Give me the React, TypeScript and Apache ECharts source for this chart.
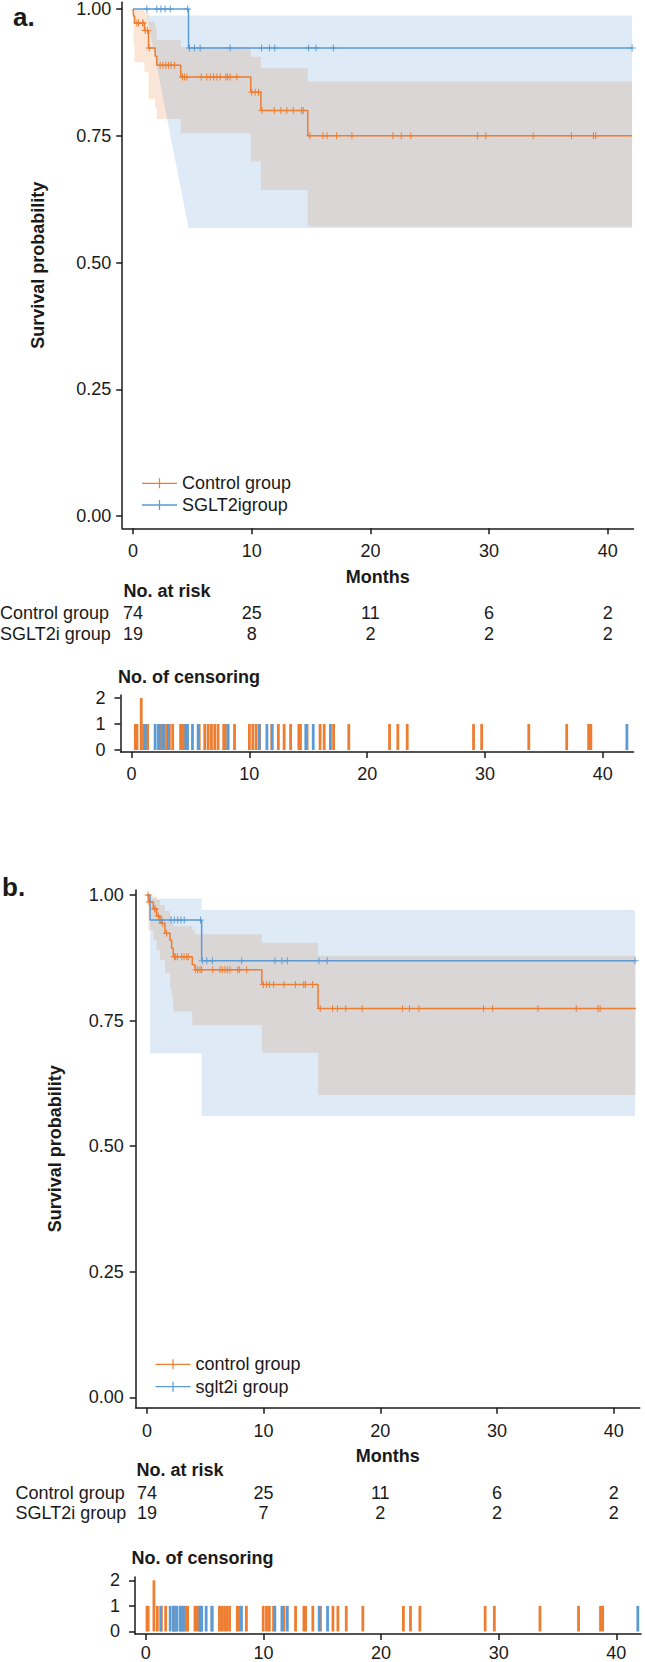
import React, { useEffect, useRef } from "react";
import * as echarts from "echarts";

// ================= DATA =================
const monthTicks = [0, 10, 20, 30, 40];
const survTicks = [0, 0.25, 0.5, 0.75, 1];
const censorTicks = [0, 1, 2];
const riskTimes = [0, 10, 20, 30, 40];

// ---- Panel a : Control group ----
const ctrlATimes = [0, 0.04, 0.12, 0.96, 1.3, 1.86, 2.0, 4.02, 9.92, 10.77, 14.72];
const ctrlASurv = [1.0, 0.986, 0.9725, 0.9575, 0.923, 0.907, 0.889, 0.866, 0.836, 0.8, 0.75];
const ctrlAUpper = [1.0, 1.0, 0.998, 0.993, 0.975, 0.962, 0.939, 0.925, 0.906, 0.883, 0.857];
const ctrlALower = [1.0, 0.93, 0.895, 0.876, 0.822, 0.804, 0.783, 0.755, 0.699, 0.643, 0.571];
const ctrlAEnd = 42.05;
const ctrlACensor = [
  0.32, 0.46, 0.82, 0.82, 1.02, 1.22, 1.36, 2.28, 2.51, 2.76, 2.98, 3.21, 3.49, 4.16, 4.33, 4.53,
  5.74, 6.21, 6.5, 6.78, 7.06, 7.34, 7.82, 7.95, 8.18, 8.74, 10.0, 10.29, 10.57, 10.87, 11.9,
  12.46, 12.95, 13.5, 14.2, 14.34, 14.9, 16.0, 16.35, 17.15, 18.44, 21.9, 22.6, 23.4, 29.03,
  29.72, 33.72, 36.94, 38.8, 38.99,
];

// ---- Panel a : SGLT2i group ----
const sgltATimes = [0, 4.67];
const sgltASurv = [1.0, 0.923];
const sgltAEnd = 42.05;
const sgltABandTimes = [1.16, 4.67, 42.05];
const sgltABandUpper = [0.987, 0.987, 0.987];
const sgltABandLower = [0.987, 0.568, 0.568];
const sgltACensor = [
  1.16, 2.0, 2.34, 2.7, 3.13, 4.6, 4.75, 5.17, 5.65, 8.18, 10.83, 11.49, 11.94, 14.79, 15.42,
  16.88, 42.05,
];

// ---- Panel b : control group ----
const ctrlBTimes = [0, 0.12, 0.55, 0.84, 1.12, 1.55, 1.98, 2.12, 2.26, 3.89, 4.12, 9.85, 14.67];
const ctrlBSurv = [1.0, 0.986, 0.972, 0.958, 0.944, 0.924, 0.91, 0.894, 0.877, 0.861, 0.851, 0.822, 0.774];
const ctrlBUpper = [1.0, 1.0, 0.997, 0.99, 0.98, 0.968, 0.958, 0.948, 0.938, 0.93, 0.922, 0.905, 0.879];
const ctrlBLower = [1.0, 0.93, 0.91, 0.89, 0.87, 0.845, 0.815, 0.798, 0.768, 0.741, 0.741, 0.686, 0.602];
const ctrlBEnd = 41.9;
const ctrlBCensor = [
  0.1, 0.2, 0.69, 0.69, 0.98, 1.32, 1.69, 2.35, 2.46, 2.61, 2.98, 3.18, 3.41, 3.55, 4.18, 4.35,
  4.55, 4.69, 5.64, 6.26, 6.46, 6.69, 6.89, 7.12, 7.78, 7.92, 8.55, 9.98, 10.26, 10.5, 10.86,
  11.75, 12.73, 13.44, 13.58, 14.2, 14.85, 15.91, 16.33, 17.04, 18.45, 21.9, 22.5, 23.3, 28.85,
  29.63, 33.51, 36.79, 38.66, 38.84,
];

// ---- Panel b : sglt2i group ----
const sgltBTimes = [0, 0.27, 4.69];
const sgltBSurv = [1.0, 0.95, 0.869];
const sgltBUpper = [1.0, 0.993, 0.97];
const sgltBLower = [1.0, 0.685, 0.56];
const sgltBEnd = 41.83;
const sgltBCensor = [
  1.27, 2.07, 2.35, 2.64, 2.92, 3.2, 4.6, 4.75, 5.13, 5.61, 8.13, 10.97, 11.57, 12.03, 14.74,
  15.45, 41.83,
];

// ---- Numbers at risk ----
const riskCtrlA = [74, 25, 11, 6, 2];
const riskSgltA = [19, 8, 2, 2, 2];
const riskCtrlB = [74, 25, 11, 6, 2];
const riskSgltB = [19, 7, 2, 2, 2];

// ================= STYLE =================
const FONT = "'Liberation Sans', Arial, Helvetica, sans-serif";
const INK = "#1a1a1a";
const ORANGE = "#ED7D31";
const BLUE = "#5B9BD5";
const ORANGE_BAND = "rgba(237,125,49,0.2)";
const BLUE_BAND = "rgba(91,155,213,0.2)";
const PLUS = "path://M0,4.3H10V5.7H0ZM4.3,0H5.7V10H4.3Z";
const LEGEND_ICON = "path://M0,4.35H35V5.65H0ZM16.9,0H18.1V10H16.9Z";

// ================= HELPERS =================
function stepData(times: number[], vals: number[], end: number) {
  const d = times.map((t, i) => [t, vals[i]]);
  d.push([end, vals[vals.length - 1]]);
  return d;
}
function stepEdge(times: number[], vals: number[], end: number) {
  const pts: number[][] = [];
  for (let i = 0; i < times.length; i++) {
    const next = i + 1 < times.length ? times[i + 1] : end;
    pts.push([times[i], vals[i]], [next, vals[i]]);
  }
  return pts;
}
function lineEdge(times: number[], vals: number[]) {
  return times.map((t, i) => [t, vals[i]]);
}
function survAt(times: number[], vals: number[], t: number) {
  let v = vals[0];
  for (let i = 0; i < times.length; i++) if (times[i] <= t) v = vals[i];
  return v;
}
function countCensor(times: number[]) {
  const m = new Map<number, number>();
  times.forEach((t) => m.set(t, (m.get(t) || 0) + 1));
  return Array.from(m.entries()).map(([t, c]) => [t, c]);
}

function band(upper: number[][], lower: number[][], fill: string, axis: number) {
  const pts = upper.concat(lower.slice().reverse());
  return {
    type: "custom",
    xAxisIndex: axis,
    yAxisIndex: axis,
    silent: true,
    z: 1,
    data: pts,
    encode: { x: 0, y: 1 },
    renderItem: (params: any, api: any) => {
      if (params.dataIndex !== 0) return null;
      return {
        type: "polygon",
        shape: { points: pts.map((p) => api.coord(p)) },
        style: { fill },
      };
    },
  };
}
function kmLine(name: string, times: number[], surv: number[], end: number, color: string, axis: number) {
  return {
    name,
    type: "line",
    xAxisIndex: axis,
    yAxisIndex: axis,
    step: "end",
    data: stepData(times, surv, end),
    showSymbol: false,
    symbol: "none",
    lineStyle: { color, width: 1.5 },
    itemStyle: { color },
    z: 3,
    silent: true,
  };
}
function censorMarks(times: number[], surv: number[], cens: number[], color: string, axis: number) {
  return {
    type: "scatter",
    xAxisIndex: axis,
    yAxisIndex: axis,
    symbol: PLUS,
    symbolSize: 7,
    itemStyle: { color, opacity: 1 },
    data: cens.map((t) => [t, survAt(times, surv, t)]),
    z: 4,
    silent: true,
  };
}
function censorBars(cens: number[], color: string, axis: number) {
  return {
    type: "bar",
    xAxisIndex: axis,
    yAxisIndex: axis,
    barWidth: 2.8,
    barGap: "-100%",
    itemStyle: { color, opacity: 1 },
    data: countCensor(cens),
    silent: true,
  };
}
function riskSeries(vals: number[], row: number, axis: number) {
  return {
    type: "scatter",
    xAxisIndex: axis,
    yAxisIndex: axis,
    symbolSize: 1,
    clip: false,
    itemStyle: { color: "rgba(255,255,255,0)", opacity: 1 },
    data: riskTimes.map((t, i) => [t, row, vals[i]]),
    label: {
      show: true,
      position: "inside",
      formatter: (p: any) => String(p.value[2]),
      fontFamily: FONT,
      fontSize: 18,
      color: INK,
      opacity: 1,
    },
    silent: true,
  };
}

const lineAxis = { show: true, onZero: false, lineStyle: { color: INK, width: 1.5 } };
const tickStyle = { color: INK, width: 1.5 };
const labelFont = { fontFamily: FONT, fontSize: 18, color: INK };
const nameFont = { fontFamily: FONT, fontSize: 18, fontWeight: "bold", color: INK };

function xMain(gridIndex: number, min: number, max: number, margin: number, nameGap: number) {
  return {
    type: "value", gridIndex, min, max,
    name: "Months", nameLocation: "middle", nameGap, nameTextStyle: nameFont,
    axisLine: lineAxis,
    axisTick: { show: true, length: 6, customValues: monthTicks, lineStyle: tickStyle },
    axisLabel: { show: true, margin, customValues: monthTicks, ...labelFont, formatter: (v: number) => String(v) },
    splitLine: { show: false },
  };
}
function yMain(gridIndex: number, min: number, max: number, margin: number, nameGap: number) {
  return {
    type: "value", gridIndex, min, max,
    name: "Survival probability", nameLocation: "middle", nameGap, nameRotate: 90, nameTextStyle: nameFont,
    axisLine: lineAxis,
    axisTick: { show: true, length: 6, customValues: survTicks, lineStyle: tickStyle },
    axisLabel: { show: true, margin, customValues: survTicks, ...labelFont, formatter: (v: number) => v.toFixed(2) },
    splitLine: { show: false },
  };
}
function xCens(gridIndex: number, min: number, max: number, margin: number) {
  return {
    type: "value", gridIndex, min, max,
    axisLine: lineAxis,
    axisTick: { show: true, length: 6, customValues: monthTicks, lineStyle: tickStyle },
    axisLabel: { show: true, margin, customValues: monthTicks, ...labelFont, formatter: (v: number) => String(v) },
    splitLine: { show: false },
  };
}
function yCens(gridIndex: number, min: number, max: number, margin: number) {
  return {
    type: "value", gridIndex, min, max,
    axisLine: lineAxis,
    axisTick: { show: true, length: 6, customValues: censorTicks, lineStyle: tickStyle },
    axisLabel: { show: true, margin, customValues: censorTicks, ...labelFont, formatter: (v: number) => String(v) },
    splitLine: { show: false },
  };
}
function hidden(gridIndex: number, min: number, max: number) {
  return { type: "value", gridIndex, min, max, show: false, splitLine: { show: false } };
}
function gtext(text: string, x: number, y: number, size: number, bold: boolean) {
  return {
    type: "text",
    x,
    y,
    silent: true,
    style: {
      text,
      fontFamily: FONT,
      fontSize: size,
      fontWeight: bold ? "bold" : "normal",
      fill: INK,
      align: "left",
      verticalAlign: "middle",
    },
  };
}

function buildOption() {
  const grid = [
    { left: 122.2, top: 0, width: 511.3, height: 528.3 }, // a main
    { left: 120.5, top: 695, width: 513, height: 57 }, // a censoring
    { left: 122.2, top: 613.3, width: 511.3, height: 20.7 }, // a risk
    { left: 135.7, top: 890, width: 504, height: 517.7 }, // b main
    { left: 135, top: 1577, width: 506, height: 57 }, // b censoring
    { left: 135.7, top: 1492.7, width: 504, height: 20.6 }, // b risk
  ];
  const xAxis = [
    xMain(0, -0.918, 42.17, 14, 39.4),
    xCens(1, -0.94, 42.61, 13),
    hidden(2, -0.918, 42.17),
    xMain(3, -0.96, 42.23, 14, 39.3),
    xCens(4, -0.92, 42.1, 10),
    hidden(5, -0.96, 42.23),
  ];
  const yAxis = [
    yMain(0, -0.0242, 1.0131, 11, 75),
    yCens(1, -0.077, 2.115, 15),
    hidden(2, 0, 1),
    yMain(3, -0.0203, 1.00995, 12, 72),
    yCens(4, -0.1, 2.13, 15),
    hidden(5, 0, 1),
  ];

  const series: any[] = [
    // panel a
    band(stepEdge(ctrlATimes, ctrlAUpper, ctrlAEnd), stepEdge(ctrlATimes, ctrlALower, ctrlAEnd), ORANGE_BAND, 0),
    band(lineEdge(sgltABandTimes, sgltABandUpper), lineEdge(sgltABandTimes, sgltABandLower), BLUE_BAND, 0),
    kmLine("Control group", ctrlATimes, ctrlASurv, ctrlAEnd, ORANGE, 0),
    kmLine("SGLT2igroup", sgltATimes, sgltASurv, sgltAEnd, BLUE, 0),
    censorMarks(ctrlATimes, ctrlASurv, ctrlACensor, ORANGE, 0),
    censorMarks(sgltATimes, sgltASurv, sgltACensor, BLUE, 0),
    censorBars(ctrlACensor, ORANGE, 1),
    censorBars(sgltACensor, BLUE, 1),
    riskSeries(riskCtrlA, 1, 2),
    riskSeries(riskSgltA, 0, 2),
    // panel b
    band(stepEdge(ctrlBTimes, ctrlBUpper, ctrlBEnd), stepEdge(ctrlBTimes, ctrlBLower, ctrlBEnd), ORANGE_BAND, 3),
    band(stepEdge(sgltBTimes, sgltBUpper, sgltBEnd), stepEdge(sgltBTimes, sgltBLower, sgltBEnd), BLUE_BAND, 3),
    kmLine("control group", ctrlBTimes, ctrlBSurv, ctrlBEnd, ORANGE, 3),
    kmLine("sglt2i group", sgltBTimes, sgltBSurv, sgltBEnd, BLUE, 3),
    censorMarks(ctrlBTimes, ctrlBSurv, ctrlBCensor, ORANGE, 3),
    censorMarks(sgltBTimes, sgltBSurv, sgltBCensor, BLUE, 3),
    censorBars(ctrlBCensor, ORANGE, 4),
    censorBars(sgltBCensor, BLUE, 4),
    riskSeries(riskCtrlB, 1, 5),
    riskSeries(riskSgltB, 0, 5),
  ];

  const legendCommon = {
    orient: "vertical",
    padding: 0,
    itemWidth: 35,
    itemHeight: 10,
    icon: LEGEND_ICON,
    selectedMode: false,
    itemStyle: { borderWidth: 0 },
    textStyle: { fontFamily: FONT, fontSize: 18, color: INK },
  };

  return {
    animation: false,
    backgroundColor: "#ffffff",
    textStyle: { fontFamily: FONT },
    grid,
    xAxis,
    yAxis,
    legend: [
      { ...legendCommon, data: ["Control group", "SGLT2igroup"], left: 142, top: 474.3, itemGap: 3.7 },
      { ...legendCommon, data: ["control group", "sglt2i group"], left: 155.5, top: 1355.3, itemGap: 4.4 },
    ],
    graphic: [
      gtext("a.", 13, 16.5, 26, true),
      gtext("No. at risk", 123.4, 591, 18, true),
      gtext("Control group", 0, 613.3, 18, false),
      gtext("SGLT2i group", 0, 634, 18, false),
      gtext("No. of censoring", 118, 677, 18, true),
      gtext("b.", 2, 887, 26, true),
      gtext("No. at risk", 136.6, 1470, 18, true),
      gtext("Control group", 15.6, 1492.7, 18, false),
      gtext("SGLT2i group", 15.6, 1513.3, 18, false),
      gtext("No. of censoring", 131.6, 1558.3, 18, true),
    ],
    series,
  };
}

export default function App() {
  const ref = useRef<HTMLDivElement>(null);
  useEffect(() => {
    const chart = echarts.init(ref.current as HTMLDivElement, null, { renderer: "svg" });
    chart.setOption(buildOption() as any);
    return () => chart.dispose();
  }, []);
  return (
    <div
      ref={ref}
      style={{ position: "absolute", left: 0, top: 0, width: 645, height: 1662, background: "#fff" }}
    />
  );
}
